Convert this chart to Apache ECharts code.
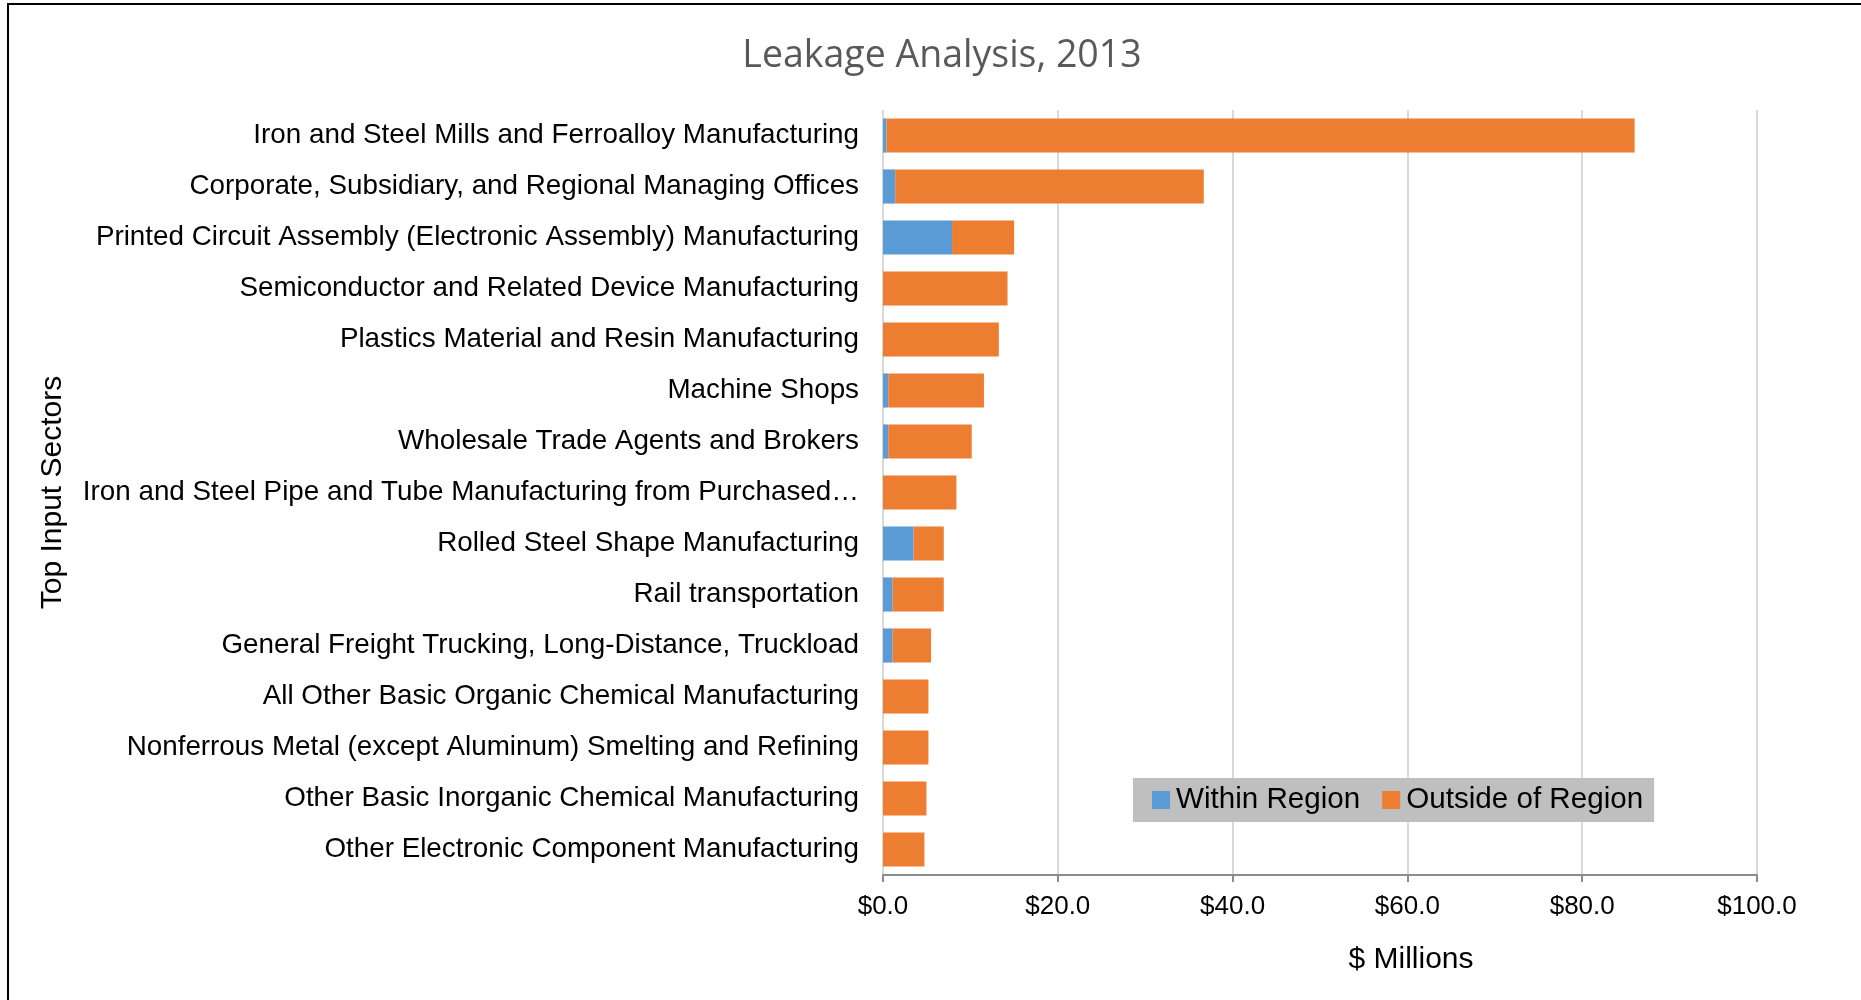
<!DOCTYPE html>
<html><head><meta charset="utf-8">
<script src="https://cdn.jsdelivr.net/npm/echarts@6/dist/echarts.min.js"></script>
<style>
html,body{margin:0;padding:0;background:#fff;overflow:hidden;}
#c{width:1861px;height:1000px;position:absolute;left:0;top:0;}
#frame{position:absolute;left:7px;top:3px;width:1900px;height:1100px;border:2px solid #000;box-sizing:border-box;pointer-events:none;}
</style></head><body>
<div id="c"></div><div id="frame"></div>
<script>
const categories = [
  "Iron and Steel Mills and Ferroalloy Manufacturing",
  "Corporate, Subsidiary, and Regional Managing Offices",
  "Printed Circuit Assembly (Electronic Assembly) Manufacturing",
  "Semiconductor and Related Device Manufacturing",
  "Plastics Material and Resin Manufacturing",
  "Machine Shops",
  "Wholesale Trade Agents and Brokers",
  "Iron and Steel Pipe and Tube Manufacturing from Purchased\u2026",
  "Rolled Steel Shape Manufacturing",
  "Rail transportation",
  "General Freight Trucking, Long-Distance, Truckload",
  "All Other Basic Organic Chemical Manufacturing",
  "Nonferrous Metal (except Aluminum) Smelting and Refining",
  "Other Basic Inorganic Chemical Manufacturing",
  "Other Electronic Component Manufacturing"
];
const withinRegion  = [0.4, 1.4, 7.9, 0, 0, 0.6, 0.6, 0, 3.5, 1.1, 1.1, 0, 0, 0, 0];
const outsideRegion = [85.6, 35.3, 7.1, 14.25, 13.25, 10.95, 9.55, 8.4, 3.45, 5.85, 4.4, 5.2, 5.2, 4.97, 4.74];
const seriesNames = ["Within Region", "Outside of Region"];
const xMin = 0, xMax = 100, xStep = 20;

const FONT = "'Liberation Sans', Arial, sans-serif";
const chart = echarts.init(document.getElementById('c'), null, {renderer: 'canvas'});
chart.setOption({
  backgroundColor: '#ffffff',
  animation: false,
  title: {
    text: 'Leakage Analysis, 2013',
    left: 937, textAlign: 'center', top: 32,
    textStyle: {fontFamily: "'Open Sans', sans-serif", fontSize: 37.5, fontWeight: 'normal', color: '#595959'}
  },
  legend: {
    data: seriesNames,
    left: 1133, top: 778,
    backgroundColor: '#BFBFBF',
    padding: [7, 11, 7, 19],
    itemWidth: 18, itemHeight: 18, itemGap: 22,
    icon: 'rect',
    textStyle: {fontFamily: FONT, fontSize: 29.6, color: '#000', padding: [0, 0, 0, 1]}
  },
  grid: {left: 883, right: 104, top: 110, bottom: 125, containLabel: false},
  xAxis: {
    type: 'value', min: xMin, max: xMax, interval: xStep,
    name: '$ Millions', nameLocation: 'middle', nameGap: 70,
    nameTextStyle: {fontFamily: FONT, fontSize: 30, color: '#000', padding: [0, 0, 0, 182]},
    axisLine: {show: true, lineStyle: {color: '#8C8C8C', width: 2}},
    axisTick: {show: true, length: 7, lineStyle: {color: '#8C8C8C', width: 2}},
    axisLabel: {fontFamily: FONT, fontSize: 26, color: '#000', margin: 19,
      formatter: v => '$' + v.toFixed(1)},
    splitLine: {show: true, lineStyle: {color: '#D9D9D9', width: 2}}
  },
  yAxis: {
    type: 'category', data: categories, inverse: true,
    name: 'Top Input Sectors', nameLocation: 'middle', nameGap: 815,
    nameTextStyle: {fontFamily: FONT, fontSize: 30, color: '#000'},
    axisLine: {show: false}, axisTick: {show: false},
    axisLabel: {fontFamily: FONT, fontSize: 27.8, color: '#000', margin: 24}
  },
  series: [
    {name: seriesNames[0], type: 'bar', stack: 'total', data: withinRegion,
     barCategoryGap: '33%', itemStyle: {color: '#5B9BD5'}},
    {name: seriesNames[1], type: 'bar', stack: 'total', data: outsideRegion,
     barCategoryGap: '33%', itemStyle: {color: '#ED7D31'}}
  ]
});
</script>
</body></html>
